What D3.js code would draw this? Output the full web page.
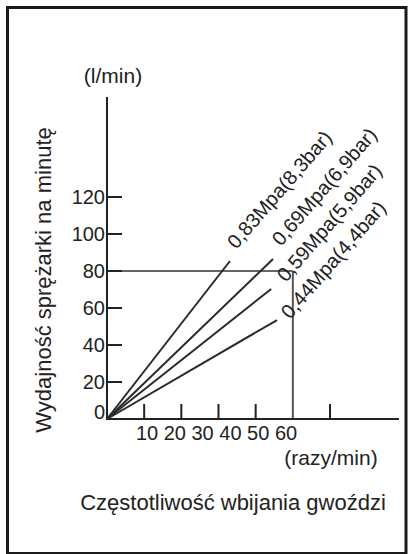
<!DOCTYPE html>
<html>
<head>
<meta charset="utf-8">
<script src="https://cdn.jsdelivr.net/npm/d3@7"></script>
<style>
  body { margin: 0; background: #fff; }
  svg text { font-family: "Liberation Sans", Arial, sans-serif; fill: #222; }
</style>
</head>
<body>
<script>
// pressure series: end point of each line (razy/min, l/min) and where its label starts
var pressures = ["0,83Mpa(8,3bar)", "0,69Mpa(6,9bar)", "0,59Mpa(5,9bar)", "0,44Mpa(4,4bar)"];
var endRate = [39.7, 53.6, 53.0, 54.9];
var endFlow = [85.4, 86.5, 70.3, 53.5];
var labelRate = [41.7, 56.2, 57.8, 59.1];
var labelFlow = [91.4, 93.0, 73.5, 53.5];

// axis ticks
var yTicks = [0, 20, 40, 60, 80, 100, 120];
var xTickMarks = [12, 24, 36, 48, 72];
var xTickLabels = ["10", "20", "30", "40", "50", "60"];

// reading example: 60 razy/min needs 80 l/min
var refRate = 60;
var refFlow = 80;

var width = 412;
var height = 554;

var svg = d3.select("body")
    .append("svg")
    .attr("width", width)
    .attr("height", height);

// frame around the whole picture
svg.append("rect")
    .attr("x", 7.5)
    .attr("y", 7.5)
    .attr("width", 398.5)
    .attr("height", 546)
    .attr("fill", "none")
    .attr("stroke", "#1a1a1a")
    .attr("stroke-width", 3);

var x = d3.scaleLinear().domain([0, 72]).range([107, 330]);
var y = d3.scaleLinear().domain([0, 120]).range([419, 197]);
// the numbers under the x axis are just spaced text, not on the tick marks
var xLab = d3.scalePoint().domain(xTickLabels).range([147, 286]);

// reference lines first, so the axes sit on top
svg.append("line")
    .attr("x1", x(0)).attr("x2", x(refRate))
    .attr("y1", y(refFlow)).attr("y2", y(refFlow))
    .attr("stroke", "#666").attr("stroke-width", 2);
svg.append("line")
    .attr("x1", x(refRate)).attr("x2", x(refRate))
    .attr("y1", y(refFlow)).attr("y2", y(0))
    .attr("stroke", "#555").attr("stroke-width", 2);

// axes lines
svg.append("line")
    .attr("x1", x(0)).attr("x2", x(0))
    .attr("y1", 97).attr("y2", y(0) + 1)
    .attr("stroke", "#222").attr("stroke-width", 2);
svg.append("line")
    .attr("x1", x(0) - 1).attr("x2", 399)
    .attr("y1", y(0)).attr("y2", y(0))
    .attr("stroke", "#222").attr("stroke-width", 2);

// y ticks point inward (to the right)
svg.append("g")
    .selectAll("line")
    .data(yTicks.filter(d => d > 0))
    .enter().append("line")
    .attr("x1", x(0)).attr("x2", x(0) + 15)
    .attr("y1", d => y(d)).attr("y2", d => y(d))
    .attr("stroke", "#222").attr("stroke-width", 2);

svg.append("g")
    .selectAll("text")
    .data(yTicks)
    .enter().append("text")
    .attr("x", 105)
    .attr("y", d => d == 0 ? y(d) - 7 : y(d))
    .attr("dy", "0.36em")
    .attr("text-anchor", "end")
    .attr("font-size", "20px")
    .text(d => d);

// x ticks point upward
svg.append("g")
    .selectAll("line")
    .data(xTickMarks)
    .enter().append("line")
    .attr("x1", d => x(d)).attr("x2", d => x(d))
    .attr("y1", y(0)).attr("y2", y(0) - 15)
    .attr("stroke", "#222").attr("stroke-width", 2);

svg.append("g")
    .selectAll("text")
    .data(xTickLabels)
    .enter().append("text")
    .attr("x", d => xLab(d))
    .attr("y", 440)
    .attr("text-anchor", "middle")
    .attr("font-size", "20px")
    .text(d => d);

// one straight line per pressure, all from the origin
var series = pressures.map((p, i) => ({
    name: p,
    pts: [[0, 0], [endRate[i], endFlow[i]]],
    lx: labelRate[i],
    ly: labelFlow[i]
}));

var line = d3.line().x(d => x(d[0])).y(d => y(d[1]));

svg.append("g")
    .selectAll("path")
    .data(series)
    .enter().append("path")
    .attr("d", d => line(d.pts))
    .attr("fill", "none")
    .attr("stroke", "#2a2a2a")
    .attr("stroke-width", 2);

svg.append("g")
    .selectAll("text")
    .data(series)
    .enter().append("text")
    .attr("transform", d => `translate(${x(d.lx)},${y(d.ly)}) rotate(-49)`)
    .attr("font-size", "20px")
    .text(d => d.name);

// unit labels and titles
svg.append("text")
    .attr("x", 113).attr("y", 83)
    .attr("text-anchor", "middle")
    .attr("font-size", "21px")
    .text("(l/min)");

svg.append("text")
    .attr("x", 331).attr("y", 465)
    .attr("text-anchor", "middle")
    .attr("font-size", "21px")
    .text("(razy/min)");

svg.append("text")
    .attr("transform", "translate(51,280) rotate(-90)")
    .attr("text-anchor", "middle")
    .attr("font-size", "22px")
    .text("Wydajność sprężarki na minutę");

svg.append("text")
    .attr("x", 233).attr("y", 510)
    .attr("text-anchor", "middle")
    .attr("font-size", "22px")
    .text("Częstotliwość wbijania gwoździ");
</script>
</body>
</html>
